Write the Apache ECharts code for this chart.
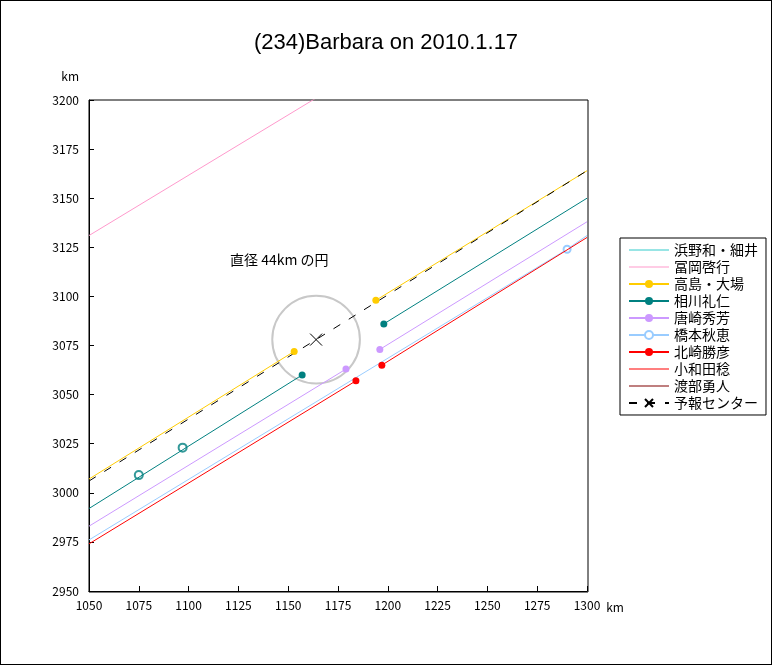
<!DOCTYPE html>
<html><head><meta charset="utf-8">
<script src="https://cdn.jsdelivr.net/npm/echarts@6/dist/echarts.min.js"></script>
<style>body{margin:0}#main{width:770px;height:663px;border:1px solid #000}</style>
</head><body><div id="main"></div>
<script>
// chord data: left part up to disappearance, right part from reappearance
var takashima = [[1050,3007],[1153,3072],null,[1194,3098],[1300,3164]];
var aikawa = [[1050,2992],[1157,3060],null,[1198,3086],[1300,3150]];
var karasaki = [[1050,2983],[1179,3063],null,[1196,3073],[1300,3138]];
var kitazaki = [[1050,2974],[1184,3057],null,[1197,3065],[1300,3130]];
var hashimoto = [[1050,2976],[1290,3124],[1300,3131]];
var tomioka = [[1050,3131],[1164,3201]];
var hamanoPts = [[1075,3009],[1097,3023]];
var center = [[1050,3006],[1164,3078],[1300,3164]];
var circleCenter = [1164,3078];
var circleRadius = 22;

function pts(arr){
	var out=[];
	for(var i=0;i<arr.length;i++){
		var p=arr[i];
		if(p==null){out.push('-');continue;}
		var edge=(p[0]==1050||p[0]==1300);
		out.push({value:p,symbol:edge?'none':undefined});
	}
	return out;
}
function lineSeries(name,color,data,symbol){
	return {name:name,type:'line',data:data,connectNulls:false,symbol:symbol||'circle',symbolSize:7,
		lineStyle:{color:color,width:1},itemStyle:{color:color},clip:true,animation:false};
}
var lineIcon='path://M0,4.5H40V5.5H0Z';

var chart = echarts.init(document.getElementById('main'));
var font = '"Noto Sans CJK JP", sans-serif';
var option = {
	animation:false,
	textStyle:{fontFamily:font},
	title:{text:'(234)Barbara on 2010.1.17',left:'center',top:26,textStyle:{fontSize:22,fontWeight:'normal',color:'#000',fontFamily:'Arial, sans-serif'}},
	grid:{left:88,right:184,top:99,bottom:73},
	legend:{orient:'vertical',left:619,top:237,width:144,itemGap:3,itemWidth:40,itemHeight:10,
		borderColor:'#000',borderWidth:1,padding:[5,8,5,8],
		textStyle:{fontSize:14,color:'#000',fontFamily:font},
		data:[{name:'浜野和・細井',icon:lineIcon},{name:'冨岡啓行',icon:lineIcon},'高島・大場','相川礼仁','唐崎秀芳','橋本秋恵','北崎勝彦',
			{name:'小和田稔',icon:lineIcon},{name:'渡部勇人',icon:lineIcon},'予報センター']},
	xAxis:{type:'value',min:1050,max:1300,interval:25,name:'km',nameGap:18,
		nameTextStyle:{color:'#000',fontSize:12,verticalAlign:'top',padding:[10,0,0,0]},
		axisLine:{lineStyle:{color:'#000'}},axisTick:{inside:true,length:5,lineStyle:{color:'#000'}},
		axisLabel:{color:'#000',fontSize:12,margin:8,formatter:function(v){return String(v);}},splitLine:{show:false}},
	yAxis:{type:'value',min:2950,max:3200,interval:25,name:'km',nameGap:18,
		nameTextStyle:{color:'#000',fontSize:12,align:'right',padding:[0,10,0,0]},
		axisLine:{show:true,lineStyle:{color:'#000'}},axisTick:{show:true,inside:true,length:5,lineStyle:{color:'#000'}},
		axisLabel:{color:'#000',fontSize:12,margin:10,formatter:function(v){return String(v);}},splitLine:{show:false}},
	graphic:[{type:'rect',shape:{x:88,y:99,width:499,height:492},style:{fill:'none',stroke:'#000',lineWidth:1},silent:true}],
	series:[
		lineSeries('浜野和・細井','#33cccc',[],'none'),
		lineSeries('冨岡啓行','#ff99cc',tomioka,'none'),
		lineSeries('高島・大場','#ffcc00',pts(takashima)),
		lineSeries('相川礼仁','#008080',pts(aikawa)),
		lineSeries('唐崎秀芳','#cc99ff',pts(karasaki)),
		(function(){var s=lineSeries('橋本秋恵','#99ccff',pts(hashimoto),'emptyCircle');s.z=1;return s;})(),
		lineSeries('北崎勝彦','#ff0000',pts(kitazaki)),
		lineSeries('小和田稔','#ff0000',[],'none'),
		lineSeries('渡部勇人','#800000',[],'none'),
		{name:'予報センター',type:'line',data:pts(center),symbol:'path://M0,0L10,10M10,0L0,10',symbolSize:12,
			lineStyle:{color:'#000',width:1,type:[8,10]},itemStyle:{color:'#000',borderColor:'#000',borderWidth:1},z:3},
		{name:'hamano-pts',type:'scatter',data:hamanoPts,symbol:'emptyCircle',symbolSize:8,itemStyle:{color:'#008080'}},
		{name:'circle',type:'custom',data:[circleCenter],silent:true,z:0,
			renderItem:function(params,api){
				var c=api.coord([api.value(0),api.value(1)]);
				var r=api.size([circleRadius,0])[0];
				return {type:'group',children:[
					{type:'circle',shape:{cx:c[0],cy:c[1],r:r},style:{fill:'none',stroke:'#c8c8c8',lineWidth:2}},
					{type:'text',style:{x:c[0]-86,y:c[1]-87,text:'直径 44km の円',fill:'#000',font:'14px '+font}}
				]};
			}}
	]
};
chart.setOption(option);
</script></body></html>
